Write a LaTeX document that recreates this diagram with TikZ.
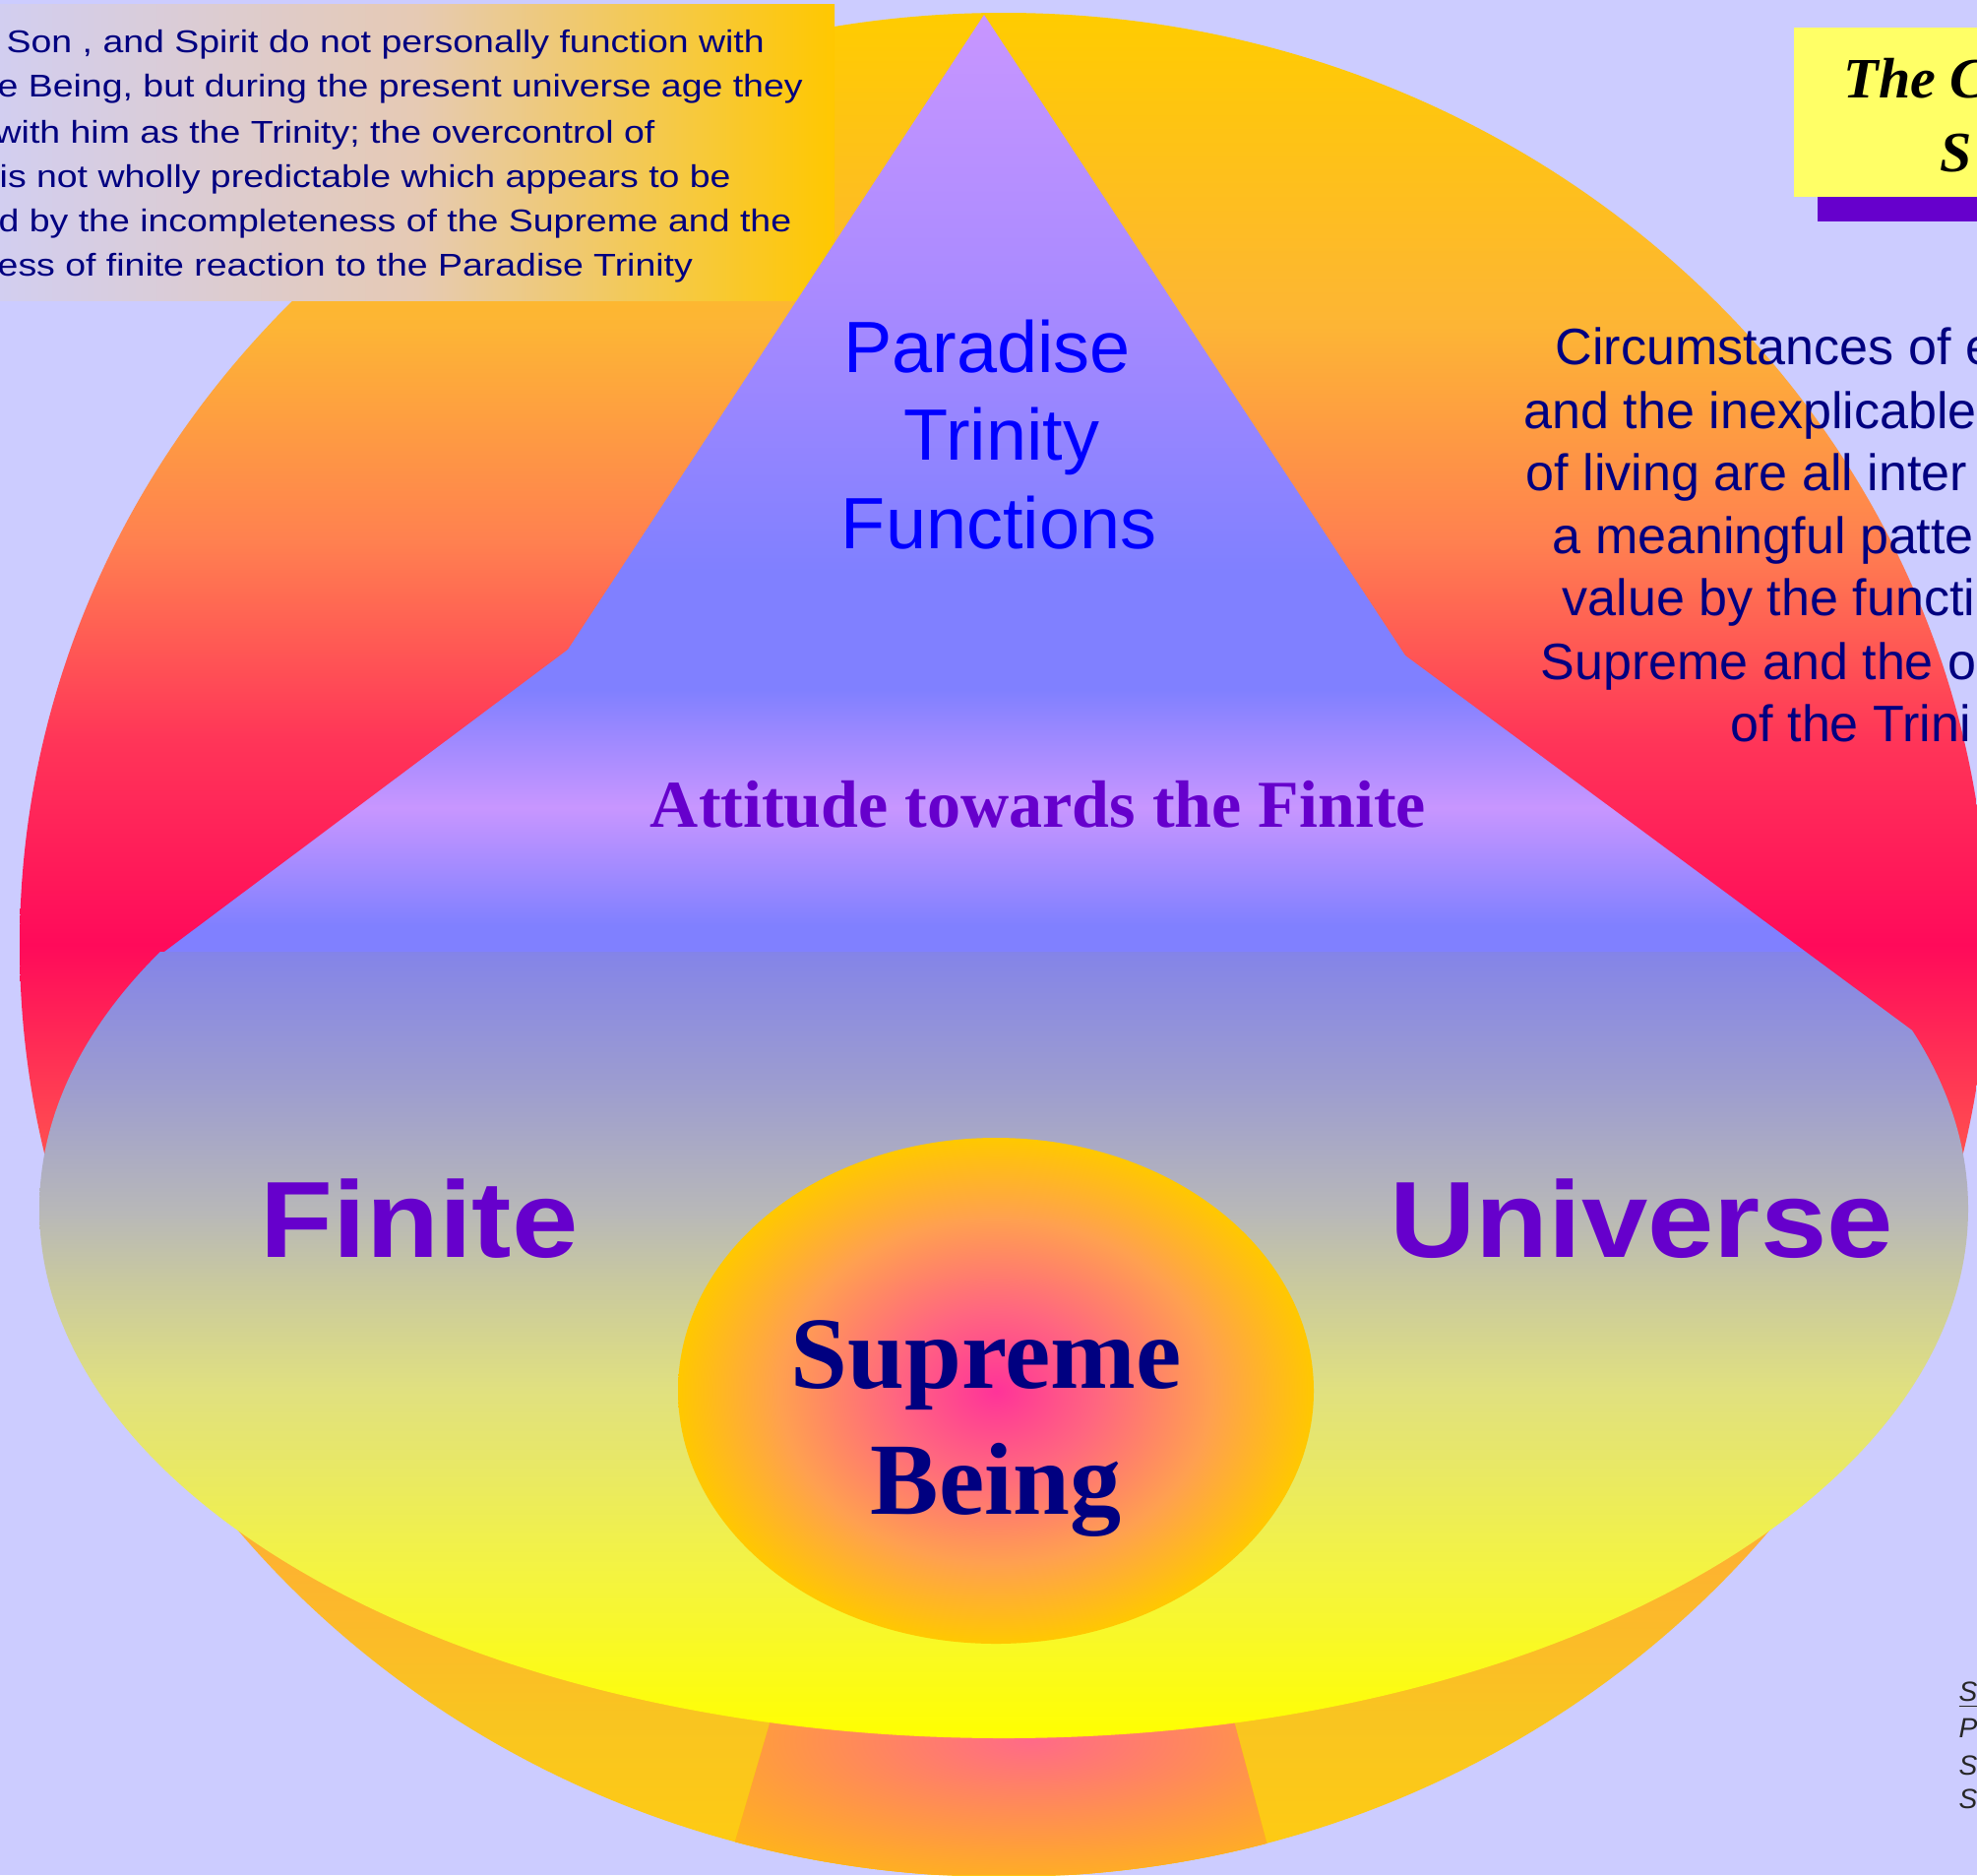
\documentclass[tikz,border=0pt]{standalone}
\usepackage{fontspec}
\setmainfont{Liberation Serif}
\setsansfont{Liberation Sans}
\newfontfamily\notefont[FakeStretch=1.17]{Liberation Sans}
\newfontfamily\widefont[FakeStretch=1.1]{Liberation Sans}

\definecolor{lavbg}{HTML}{CCCCFF}
\definecolor{navytext}{HTML}{000080}
\definecolor{purpletext}{HTML}{6600CC}
\definecolor{bluetext}{HTML}{0000FF}
\definecolor{titleyellow}{HTML}{FFFF66}
\definecolor{boxlav}{HTML}{D2CEF0}
\definecolor{boxmid}{HTML}{E6CAB4}
\definecolor{boxgold}{HTML}{FFC800}
\definecolor{glowpink}{HTML}{FF6A88}
\definecolor{glowgold}{HTML}{FFC600}

\definecolor{orA}{HTML}{FFCC10}
\definecolor{orB}{HTML}{F9C520}
\definecolor{orC}{HTML}{FFAA38}
\definecolor{orD}{HTML}{FF5050}
\definecolor{orE}{HTML}{FF0A5A}
\definecolor{orF}{HTML}{FF3558}
\definecolor{orG}{HTML}{FF8050}
\definecolor{orH}{HTML}{FDB535}
\definecolor{orI}{HTML}{FFCC00}
\pgfdeclareverticalshading{circleshade}{100bp}{color(0bp)=(orA); color(25bp)=(orA); color(29.1bp)=(orB); color(35.7bp)=(orC); color(44.4bp)=(orD); color(50bp)=(orE); color(55.5bp)=(orF); color(60.8bp)=(orG); color(66.6bp)=(orH); color(75bp)=(orI); color(100bp)=(orI)}

\definecolor{trBlue}{HTML}{8080FF}
\definecolor{trViolet}{HTML}{C896FF}
\definecolor{trMid}{HTML}{A98AFF}
\pgfdeclareverticalshading{trinityshade}{100bp}{color(0bp)=(trBlue); color(26.4bp)=(trBlue); color(32.7bp)=(trViolet); color(39bp)=(trBlue); color(45.3bp)=(trBlue); color(60bp)=(trMid); color(75bp)=(trViolet); color(100bp)=(trViolet)}

\definecolor{fuA}{HTML}{FFFF00}
\definecolor{fuB}{HTML}{F4F440}
\definecolor{fuC}{HTML}{E0E080}
\definecolor{fuD}{HTML}{C8C8A0}
\definecolor{fuE}{HTML}{B8B8B8}
\definecolor{fuF}{HTML}{9C9CD0}
\definecolor{fuG}{HTML}{8484E8}
\definecolor{fuH}{HTML}{8080FF}
\pgfdeclareverticalshading{finiteshade}{100bp}{color(0bp)=(fuA); color(25bp)=(fuA); color(32.7bp)=(fuB); color(41.5bp)=(fuC); color(46.7bp)=(fuD); color(49.8bp)=(fuE); color(56bp)=(fuF); color(62.1bp)=(fuG); color(75bp)=(fuH); color(100bp)=(fuH)}

\definecolor{sgA}{HTML}{FF3399}
\definecolor{sgB}{HTML}{FF6680}
\definecolor{sgC}{HTML}{FFA050}
\definecolor{sgD}{HTML}{FFC800}
\pgfdeclareradialshading{supremeglow}{\pgfpoint{0bp}{0bp}}{color(0bp)=(sgA); color(8bp)=(sgB); color(17bp)=(sgC); color(25bp)=(sgD); color(50bp)=(sgD)}

\begin{document}
\begin{tikzpicture}[x=0.01cm,y=-0.01cm,
  every node/.style={inner sep=0pt},
  notetext/.style={anchor=base west,text=navytext,font=\notefont\fontsize{9.1}{11}\selectfont},
  sidetext/.style={anchor=base west,text=navytext,font=\sffamily\fontsize{14.8}{17}\selectfont},
  trinitytext/.style={anchor=base,text=bluetext,font=\sffamily\fontsize{21}{25}\selectfont},
  realmtext/.style={anchor=base,text=purpletext,font=\widefont\bfseries\fontsize{31.3}{36}\selectfont},
  supremetext/.style={anchor=base,text=navytext,font=\bfseries\fontsize{29.6}{34}\selectfont},
  titletext/.style={anchor=base west,text=black,font=\bfseries\itshape\fontsize{16.5}{19}\selectfont},
  refsmall/.style={anchor=base west,text=black!85,font=\sffamily\itshape\fontsize{8}{9}\selectfont}]
\clip (0,0) rectangle (2009,1905);
\fill[lavbg] (0,0) rectangle (2009,1905);

\shade[shading=circleshade] (1020,960) ellipse (1000 and 947);
\begin{scope}
  \clip (1020,960) ellipse (1000 and 947);
  \clip (797,1700) -- (1241,1700) -- (1296,1905) -- (737,1905) -- cycle;
  \fill[glowgold] (700,1700) rectangle (1350,1905);
  \shade[inner color=glowpink,outer color=glowgold] (1048,1768) ellipse (520 and 190);
\end{scope}

\shade[left color=boxlav,right color=boxgold,middle color=boxmid] (0,4) rectangle (848,305);

\begin{scope}
  \clip (0,967) -- (1835,967) -- (2160,1207) -- (2160,1905) -- (0,1905) -- cycle;
  \shade[shading=finiteshade] (1020,1228) ellipse (980 and 538);
\end{scope}
\shade[shading=trinityshade] (1000,15) -- (577,660) -- (167,967) -- (1835,967) -- (1428,666) -- cycle;
\shade[shading=supremeglow] (1012,1413) ellipse (323 and 257);

\fill[purpletext] (1847,52) rectangle (2009,225);
\fill[titleyellow] (1823,28) rectangle (2009,200);

\foreach \yy/\xx/\txt [count=\i] in {53/6/{Son , and Spirit do not personally function with},
    98/-3/{e Being, but during the present universe age they},
    145/-6/{with him as the Trinity; the overcontrol of},
    190/-1/{is not wholly predictable which appears to be},
    235/-2/{d by the incompleteness of the Supreme and the},
    280/-3/{ess of finite reaction to the Paradise Trinity}}
  \node[notetext] (note\i) at (\xx,\yy) {\txt};

\foreach \yy/\xx/\txt [count=\i] in {370/1580/{Circumstances of e},
    435/1548/{and the inexplicable},
    498/1550/{of living are all inter},
    562/1577/{a meaningful patte},
    625/1587/{value by the functi},
    690/1565/{Supreme and the o},
    753/1758/{of the Trini}}
  \node[sidetext] (side\i) at (\xx,\yy) {\txt};

\node[titletext] (title1) at (1873,99) {The C};
\node[titletext] (title2) at (1971,174) {S};

\node[trinitytext] (paradise) at (1003,378) {Paradise};
\node[trinitytext] (trinity) at (1018,467) {Trinity};
\node[trinitytext] (functions) at (1015,557) {Functions};

\node[anchor=base,text=purpletext,font=\bfseries\fontsize{19.35}{23}\selectfont] (attitude) at (1055,840) {Attitude towards the Finite};

\node[realmtext] (finite) at (426,1277) {Finite};
\node[realmtext] (universe) at (1668,1277) {Universe};

\node[supremetext] (supreme) at (1002,1410) {Supreme};
\node[supremetext] (being) at (1012,1538) {Being};

\node[refsmall] (ref1) at (1990,1728) {\underline{S}};
\node[refsmall] (ref2) at (1990,1765) {P};
\node[refsmall] (ref3) at (1990,1803) {S};
\node[refsmall] (ref4) at (1990,1837) {S};
\end{tikzpicture}
\end{document}
